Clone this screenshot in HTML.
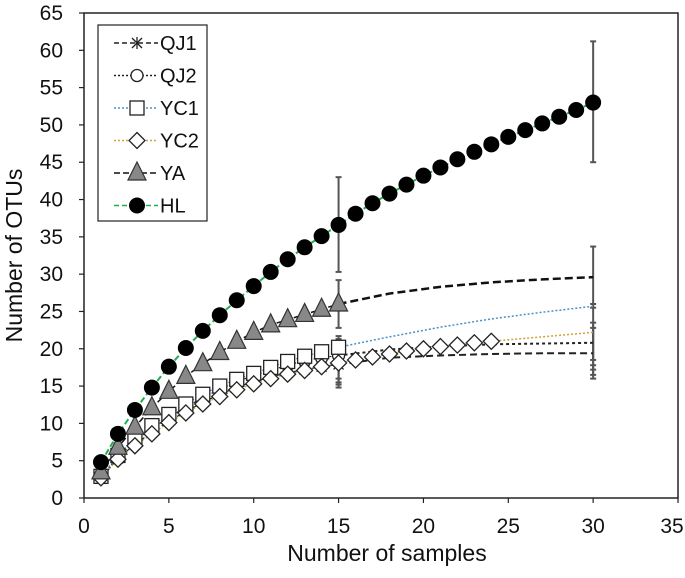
<!DOCTYPE html>
<html><head><meta charset="utf-8">
<style>
html,body{margin:0;padding:0;background:#fff;}
svg{display:block;font-family:"Liberation Sans",Arial,sans-serif;}
</style></head>
<body>
<svg id="chart" width="685" height="578" viewBox="0 0 685 578"></svg>
<script>
const xTicks=[0,5,10,15,20,25,30,35];
const yTicks=[0,5,10,15,20,25,30,35,40,45,50,55,60,65];
const xObs=[1,2,3,4,5,6,7,8,9,10,11,12,13,14,15];
const xHL=[1,2,3,4,5,6,7,8,9,10,11,12,13,14,15,16,17,18,19,20,21,22,23,24,25,26,27,28,29,30];
const hlVals=[4.8,8.6,11.8,14.8,17.6,20.1,22.4,24.5,26.5,28.4,30.3,32,33.6,35.1,36.6,38.1,39.5,40.8,42,43.2,44.3,45.4,46.4,47.4,48.4,49.3,50.2,51.1,52,53];
const yaVals=[3.5,6.8,9.5,12.1,14.3,16.3,18,19.5,21,22.2,23.2,23.9,24.6,25.3,26];
const yc1Vals=[2.9,5.7,8,9.7,11.2,12.6,13.9,15,15.9,16.7,17.5,18.3,19,19.6,20.2];
const qj2Vals=[2.8,5.5,7.6,9.3,10.8,12.2,13.4,14.6,15.6,16.4,17.1,17.8,18.4,18.8,19.1];
const qj1Vals=[2.6,5.3,7.2,8.8,10.3,11.6,12.8,13.9,14.8,15.6,16.2,16.8,17.2,17.6,17.9];
const xYC2=[1,2,3,4,5,6,7,8,9,10,11,12,13,14,15,16,17,18,19,20,21,22,23,24];
const yc2Vals=[2.7,5.2,7,8.6,10.1,11.4,12.6,13.6,14.5,15.3,16,16.6,17.1,17.6,18.1,18.5,18.9,19.3,19.7,20,20.3,20.5,20.8,21];
const xExt=[15,18,21,24,27,30];
const yaExt=[26,27.4,28.3,28.9,29.3,29.6];
const yc1Ext=[20.2,21.6,22.9,24,24.9,25.7];
const qj2Ext=[19.1,19.9,20.3,20.6,20.7,20.8];
const qj1Ext=[17.9,18.8,19.1,19.3,19.4,19.4];
const yc2Ext=[21,21.4,21.8,22.2];
const xYC2Ext=[24,26,28,30];
const errX=[15,15,15,15,15,15,30,30,30,30,30,30];
const errLo=[30.3,22.8,14.8,15.5,16,15.2,45,25.5,18.5,17.2,16.5,16];
const errHi=[43,29.2,21.7,21,20.5,21.3,61.2,33.7,26,23.5,22.8,17.8];

const L=84,R=678,T=13,B=498;
const sx=v=>L+(v-0)/35*(R-L);
const sy=v=>B-(v-0)/65*(B-T);
const svg=document.getElementById('chart');
const NS='http://www.w3.org/2000/svg';
function mk(tag,attrs,parent){const e=document.createElementNS(NS,tag);for(const k in attrs)e.setAttribute(k,attrs[k]);(parent||svg).appendChild(e);return e;}

let fr=mk('rect',{x:L,y:T,width:R-L,height:B-T,fill:'none',stroke:'#222','stroke-width':1.5});


xTicks.forEach(t=>{
 let ln=mk('line',{x1:sx(t),x2:sx(t),y1:B,y2:B+5,stroke:'#222','stroke-width':1.2});
 
 
 let cx=Math.min(sx(t),672);
 let tx=mk('text',{x:cx,y:B+35,'text-anchor':'middle','font-size':21,fill:'#111'});tx.textContent=t;
 
 
});
yTicks.forEach(t=>{
 let ln=mk('line',{x1:L-5,x2:L,y1:sy(t),y2:sy(t),stroke:'#222','stroke-width':1.2});
 
 
 let tx=mk('text',{x:L-21,y:sy(t)+7,'text-anchor':'end','font-size':21,fill:'#111'});tx.textContent=t;
 
 
});
let xt=mk('text',{x:(L+R)/2+6,y:561,'text-anchor':'middle','font-size':23,fill:'#111'});xt.textContent='Number of samples';


let yt=mk('text',{x:0,y:0,'text-anchor':'middle','font-size':23,fill:'#111',transform:`translate(22,${(T+B)/2}) rotate(-90)`});yt.textContent='Number of OTUs';



errX.forEach((x,i)=>{
 const g=mk('g',{stroke:'#555','stroke-width':2});
 
 
 mk('line',{x1:sx(x),x2:sx(x),y1:sy(errLo[i]),y2:sy(errHi[i])},g);
 mk('line',{x1:sx(x)-3,x2:sx(x)+3,y1:sy(errLo[i]),y2:sy(errLo[i])},g);
 mk('line',{x1:sx(x)-3,x2:sx(x)+3,y1:sy(errHi[i]),y2:sy(errHi[i])},g);
});

function line(xs,ys,color,dash,w,name){
 const p=mk('polyline',{points:xs.map((x,i)=>sx(x)+','+sy(ys[i])).join(' '),fill:'none',stroke:color,'stroke-width':w,'stroke-dasharray':dash});
 
 
}
function marker(type,cx,cy,g){
 if(type==='star'){const s=5;
  mk('line',{x1:cx-s,y1:cy-s,x2:cx+s,y2:cy+s,stroke:'#222','stroke-width':1.3},g);
  mk('line',{x1:cx-s,y1:cy+s,x2:cx+s,y2:cy-s,stroke:'#222','stroke-width':1.3},g);
  mk('line',{x1:cx,y1:cy-6,x2:cx,y2:cy+6,stroke:'#222','stroke-width':1.3},g);}
 else if(type==='circ') mk('circle',{cx,cy,r:6,fill:'#fff',stroke:'#222','stroke-width':1.3},g);
 else if(type==='sq') mk('rect',{x:cx-7,y:cy-7,width:14,height:14,fill:'#fff',stroke:'#222','stroke-width':1.3},g);
 else if(type==='dia') mk('polygon',{points:`${cx},${cy-8} ${cx+8},${cy} ${cx},${cy+8} ${cx-8},${cy}`,fill:'#fff',stroke:'#222','stroke-width':1.3},g);
 else if(type==='tri') mk('polygon',{points:`${cx},${cy-11} ${cx+9},${cy+7} ${cx-9},${cy+7}`,fill:'#888',stroke:'#333','stroke-width':1.2},g);
 else if(type==='dot') mk('circle',{cx,cy,r:8,fill:'#000'},g);
}
function series(xs,ys,type,name){
 const g=mk('g',{});
 
 
 xs.forEach((x,i)=>marker(type,sx(x),sy(ys[i]),g));
}
line(xExt,qj1Ext,'#222','7,4',2,'qj1-extrapolation');
line(xExt,qj2Ext,'#222','3,3',2,'qj2-extrapolation');
line(xExt,yc1Ext,'#4a90c8','2,2',1.5,'yc1-extrapolation');
line(xYC2Ext,yc2Ext,'#d4a23a','2,2',1.5,'yc2-extrapolation');
line(xExt,yaExt,'#111','8,4',2.5,'ya-extrapolation');
line(xObs,qj1Vals,'#222','6,3',1.2,'qj1-line');
line(xObs,qj2Vals,'#222','2,2',1.2,'qj2-line');
line(xObs,yc1Vals,'#4a90c8','2,2',1.2,'yc1-line');
line(xYC2,yc2Vals,'#d4a23a','2,2',1.2,'yc2-line');
line(xObs,yaVals,'#111','6,3',1.5,'ya-line');
line(xHL,hlVals,'#1fae4f','6,3',2,'hl-line');
series(xObs,qj1Vals,'star','qj1-markers');
series(xObs,qj2Vals,'circ','qj2-markers');
series(xObs,yc1Vals,'sq','yc1-markers');
series(xYC2,yc2Vals,'dia','yc2-markers');
series(xObs,yaVals,'tri','ya-markers');
series(xHL,hlVals,'dot','hl-markers');

const lg=mk('g',{});


mk('rect',{x:98,y:25,width:109,height:196,fill:'#fff',stroke:'#222','stroke-width':1.2},lg);
const legNames=['QJ1','QJ2','YC1','YC2','YA','HL'];
const legTypes=['star','circ','sq','dia','tri','dot'];
const legCols=['#222','#222','#4a90c8','#d4a23a','#111','#1fae4f'];
const legDash=['5,3','2,2','2,2','2,2','6,3','5,3'];
legNames.forEach((n,i)=>{
 const y=43+i*32.5;
 const e=mk('g',{},lg);
 
 
 mk('line',{x1:114,x2:158,y1:y,y2:y,stroke:legCols[i],'stroke-width':1.6,'stroke-dasharray':legDash[i]},e);
 marker(legTypes[i],137,y,e);
 const t=mk('text',{x:160,y:y+7,'font-size':20,fill:'#111'},e);t.textContent=n;
});
</script>
</body></html>
